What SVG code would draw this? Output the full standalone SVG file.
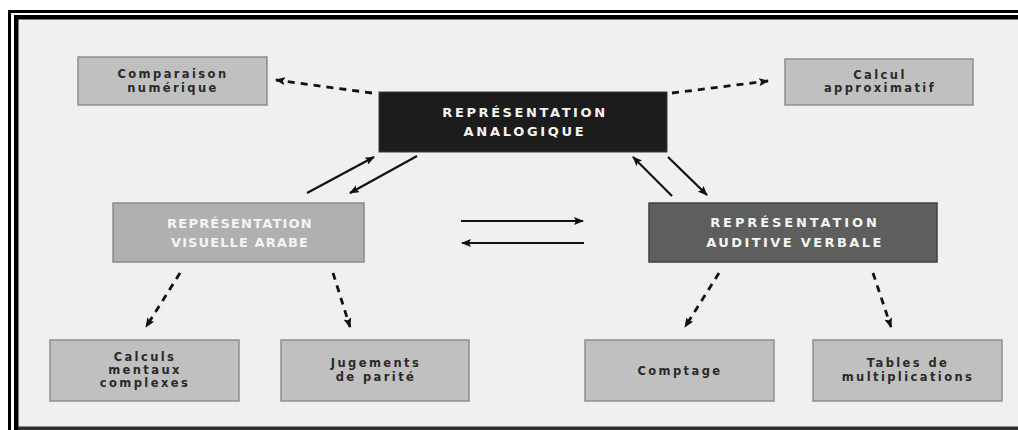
<svg xmlns="http://www.w3.org/2000/svg" width="1018" height="430" viewBox="0 0 1018 430">
  <defs>
    <marker id="head" viewBox="0 0 10 8" refX="9" refY="4" markerWidth="10" markerHeight="8" markerUnits="userSpaceOnUse" orient="auto">
      <path d="M0,0 L10,4 L0,8 L2,4 Z" fill="#111"/>
    </marker>
    <style>
      .frame-bg { fill: #f0f0f0; }
      .box { fill: #c0c0c0; stroke: #8e8e8e; stroke-width: 1.5; }
      .lbl { font-family: "DejaVu Sans", "Liberation Sans", sans-serif; font-weight: bold; font-size: 11.5px; fill: #2a2a2a; letter-spacing: 2.4px; text-anchor: middle; }
      .big { font-family: "DejaVu Sans", "Liberation Sans", sans-serif; font-weight: bold; font-size: 13px; fill: #f4f4f4; text-anchor: middle; }
      .solid { stroke: #111; stroke-width: 2.2; fill: none; marker-end: url(#head); }
      .dash { stroke: #111; stroke-width: 2.8; fill: none; stroke-dasharray: 7 6; marker-end: url(#head); }
    </style>
  </defs>

  <!-- page and double frame -->
  <rect x="0" y="0" width="1018" height="430" fill="#ffffff"/>
  <rect class="frame-bg" x="18" y="19" width="1000" height="408"/>
  <rect x="8" y="10" width="1010" height="3" fill="#000"/>
  <rect x="14" y="15" width="1004" height="4.5" fill="#000"/>
  <rect x="8" y="10" width="3" height="420" fill="#000"/>
  <rect x="14" y="15" width="4.5" height="415" fill="#000"/>
  <rect x="18" y="426.5" width="1000" height="3.5" fill="#2e2e2e"/>

  <!-- connectors -->
  <g id="connectors">
    <path class="dash" d="M372,93 L276,80"/>
    <path class="dash" d="M672,93 L768,81"/>
    <path class="solid" d="M307,193 L374,157"/>
    <path class="solid" d="M417,156 L350,193"/>
    <path class="solid" d="M672,196 L633,157"/>
    <path class="solid" d="M668,157 L707,195"/>
    <path class="solid" d="M461,221 L583,221"/>
    <path class="solid" d="M584,243 L462,243"/>
    <path class="dash" d="M180,273 L146,327"/>
    <path class="dash" d="M333,273 L350,327"/>
    <path class="dash" d="M719,273 L685,327"/>
    <path class="dash" d="M873,273 L891,327"/>
  </g>

  <g id="analogique">
    <rect x="379" y="92" width="288" height="60" fill="#1c1c1c" stroke="#3a3a3a" stroke-width="1"/>
    <text class="big" x="525" y="117" style="letter-spacing:2.6px">REPRÉSENTATION</text>
    <text class="big" x="525" y="136" style="letter-spacing:2.7px">ANALOGIQUE</text>
  </g>

  <g id="visuelle">
    <rect x="113" y="203" width="251" height="59" fill="#b0b0b0" stroke="#8a8a8a" stroke-width="1.5"/>
    <text class="big" x="240" y="228" style="letter-spacing:1.2px">REPRÉSENTATION</text>
    <text class="big" x="240" y="247" style="letter-spacing:1.1px">VISUELLE ARABE</text>
  </g>

  <g id="auditive">
    <rect x="649" y="203" width="288" height="59" fill="#5e5e5e" stroke="#404040" stroke-width="1.5"/>
    <text class="big" x="795" y="227" style="letter-spacing:2.9px">REPRÉSENTATION</text>
    <text class="big" x="795" y="247" style="letter-spacing:2.4px">AUDITIVE VERBALE</text>
  </g>

  <g id="comparaison">
    <rect class="box" x="78" y="57" width="189" height="48"/>
    <text class="lbl" x="173" y="78">Comparaison</text>
    <text class="lbl" x="173" y="92">numérique</text>
  </g>

  <g id="calcul">
    <rect class="box" x="785" y="59" width="188" height="46"/>
    <text class="lbl" x="880" y="79">Calcul</text>
    <text class="lbl" x="880" y="92">approximatif</text>
  </g>

  <g id="calculs-mentaux">
    <rect class="box" x="50" y="340" width="189" height="61"/>
    <text class="lbl" x="145" y="361">Calculs</text>
    <text class="lbl" x="145" y="374">mentaux</text>
    <text class="lbl" x="145" y="387">complexes</text>
  </g>

  <g id="jugements">
    <rect class="box" x="281" y="340" width="188" height="61"/>
    <text class="lbl" x="376" y="367">Jugements</text>
    <text class="lbl" x="376" y="381">de parité</text>
  </g>

  <g id="comptage">
    <rect class="box" x="585" y="340" width="189" height="61"/>
    <text class="lbl" x="680" y="375">Comptage</text>
  </g>

  <g id="tables">
    <rect class="box" x="813" y="340" width="189" height="61"/>
    <text class="lbl" x="908" y="367">Tables de</text>
    <text class="lbl" x="908" y="381">multiplications</text>
  </g>
</svg>
